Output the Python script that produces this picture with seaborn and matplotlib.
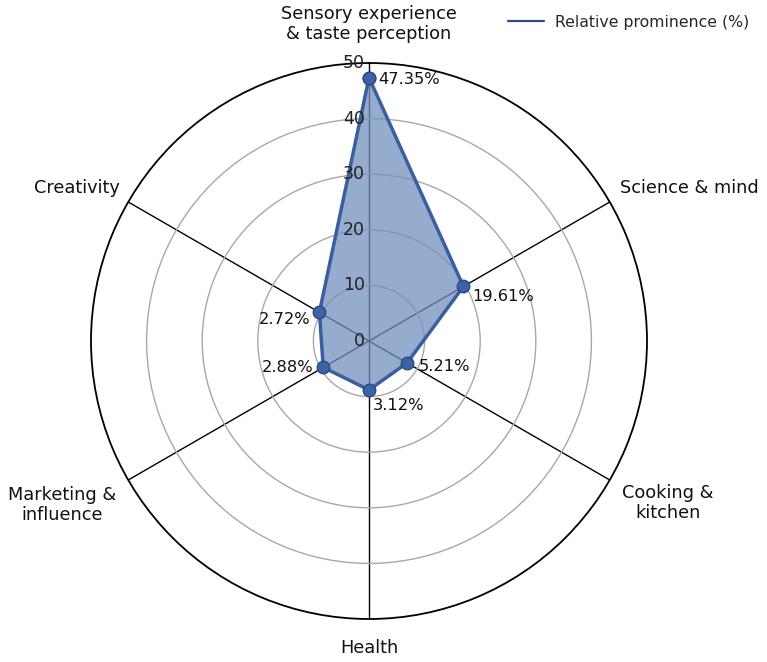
import numpy as np
import pandas as pd
import matplotlib
matplotlib.use("Agg")
import matplotlib.pyplot as plt
from matplotlib.lines import Line2D
import seaborn as sns

# ---- data ----
categories = ["Sensory experience\n& taste perception", "Science & mind",
              "Cooking &\nkitchen", "Health", "Marketing &\ninfluence", "Creativity"]
# radial positions of the markers as drawn in the reference
plotted_values = [47.35, 19.61, 7.9, 8.8, 9.5, 10.3]
# printed value labels
value_labels = ["47.35%", "19.61%", "5.21%", "3.12%", "2.88%", "2.72%"]
radial_ticks = [0, 10, 20, 30, 40, 50]
series_name = "Relative prominence (%)"

sns.set_theme(style="white")
plt.rcParams["font.family"] = ["DejaVu Sans"]

fig = plt.figure(figsize=(7.67, 6.62), dpi=100)
ax = fig.add_axes([91 / 767, 43 / 662, 556 / 767, 556 / 662], projection="polar")
ax.set_theta_zero_location("N")
ax.set_theta_direction(-1)

n = len(categories)
angles = np.arange(n) * 2 * np.pi / n
df = pd.DataFrame({"theta": np.append(angles, 2 * np.pi),
                   "r": plotted_values + [plotted_values[0]]})

line_c = "#3a5f9e"
fill_c = "#7391bf"
ax.fill(df["theta"], df["r"], color=fill_c, alpha=0.75, zorder=2, lw=0)
sns.lineplot(data=df, x="theta", y="r", ax=ax, sort=False, color=line_c, lw=2.5,
             marker="o", markersize=9, markerfacecolor="#3c63a3",
             markeredgecolor="#2a4a82", markeredgewidth=1.0, zorder=4, legend=False)
ax.set_xlabel("")
ax.set_ylabel("")

ax.set_ylim(0, 50)
ax.set_yticks(radial_ticks[1:-1])
ax.set_yticklabels([])
ax.set_xticks(angles)
ax.set_xticklabels([])
ax.yaxis.grid(True, color="#a8a8a8", lw=1.0)
ax.xaxis.grid(True, color="black", lw=1.0)
ax.spines["polar"].set_color("black")
ax.spines["polar"].set_linewidth(1.3)
ax.tick_params(axis="both", length=0)

# radial tick labels along the top spoke
for t in radial_ticks:
    ax.annotate(str(t), xy=(0, t), xytext=(-3, 0), textcoords="offset points",
                ha="right", va="center", fontsize=12.5, color="#222222", zorder=6)

# category labels (angle in degrees clockwise from north, radius in data units)
cat_pos = [(0, 57.0, "center"), (58.6, 52.9, "left"), (122.6, 54.0, "left"),
           (180, 55.3, "center"), (237.0, 54.3, "right"), (301.6, 52.6, "right")]
for lab, (deg, r, ha) in zip(categories, cat_pos):
    ax.text(np.deg2rad(deg), r, lab, ha=ha, va="center", fontsize=12.8, color="#111111",
            multialignment="center", clip_on=False, linespacing=1.15)

# value labels
offsets = [(6.5, -1, "left"), (6, -7.5, "left"), (8.5, -2.5, "left"),
           (3, -11.5, "left"), (-7, 0, "right"), (-6.5, -5, "right")]
for th, r, lab, (dx, dy, ha) in zip(angles, plotted_values, value_labels, offsets):
    ax.annotate(lab, xy=(th, r), xytext=(dx, dy), textcoords="offset points",
                ha=ha, va="center", fontsize=11.7, color="#111111", zorder=7)

handle = Line2D([0], [0], color="#2b4c85", lw=1.6)
fig.legend([handle], [series_name], loc="center left",
           bbox_to_anchor=(508 / 767, 1 - 22 / 662), frameon=False,
           fontsize=11.3, handlelength=2.3, handletextpad=0.7, borderpad=0,
           borderaxespad=0)

fig.savefig("out.png", dpi=100, facecolor="white")
